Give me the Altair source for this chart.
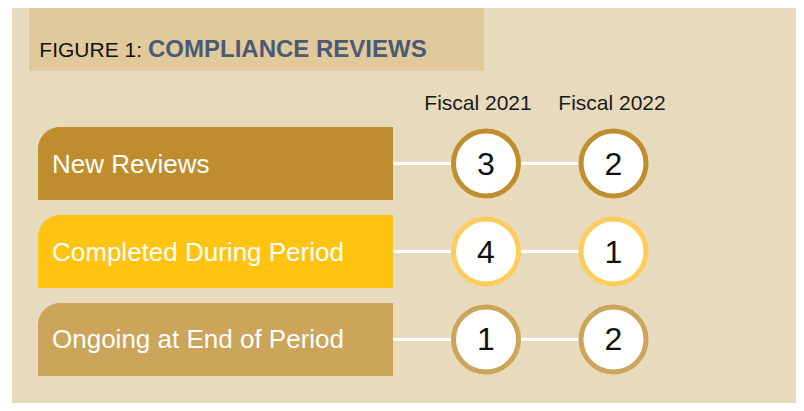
import altair as alt
import pandas as pd

# ---- data ----
categories = ["New Reviews", "Completed During Period", "Ongoing at End of Period"]
years = ["Fiscal 2021", "Fiscal 2022"]
fy2021 = [3, 4, 1]
fy2022 = [2, 1, 2]
title_prefix = "FIGURE 1:"
title_main = "COMPLIANCE REVIEWS"

# ---- styles ----
bar_colors = ["#BE8E2E", "#FFC312", "#CBA55A"]
ring_colors = ["#BF8F2E", "#FECC5A", "#CBA55A"]
BG = "#E8DABD"
BAND = "#E1C99C"
TITLE_BLUE = "#4A5A74"
FONT = "Liberation Sans"
W, H = 788, 395

rows = []
for c, a, b in zip(categories, fy2021, fy2022):
    rows.append({"Category": c, "Year": years[0], "Count": a})
    rows.append({"Category": c, "Year": years[1], "Count": b})
df = pd.DataFrame(rows)
cat_df = pd.DataFrame({"Category": categories})
year_df = pd.DataFrame({"Year": years})
one = pd.DataFrame({"k": [0]})

yscale = alt.Scale(domain=categories, range=[119, 368], paddingInner=0.17, paddingOuter=0)
Y = alt.Y("Category:N", scale=yscale, axis=None)
X = alt.X("Year:N", scale=alt.Scale(type="point", domain=years, range=[478, 605.5], padding=0), axis=None)

bg = alt.Chart(one).mark_rect(color=BG).encode(
    x=alt.value(4), x2=alt.value(W), y=alt.value(-1), y2=alt.value(H)
)
band = alt.Chart(one).mark_rect(color=BAND).encode(
    x=alt.value(21), x2=alt.value(476), y=alt.value(-1), y2=alt.value(63)
)
t1 = alt.Chart(one).mark_text(
    font=FONT, fontSize=21, color="#111111", align="right", baseline="alphabetic"
).encode(x=alt.value(134), y=alt.value(49), text=alt.value(title_prefix))
t2 = alt.Chart(one).mark_text(
    font=FONT, fontSize=24, fontWeight="bold", color=TITLE_BLUE, align="left", baseline="alphabetic"
).encode(x=alt.value(140), y=alt.value(49), text=alt.value(title_main))

bars = alt.Chart(cat_df).mark_rect(cornerRadiusTopLeft=22).encode(
    y=Y, x=alt.value(30), x2=alt.value(385),
    color=alt.Color("Category:N", scale=alt.Scale(domain=categories, range=bar_colors), legend=None),
)
rules = alt.Chart(cat_df).mark_rule(color="white", strokeWidth=3).encode(
    y=Y, x=alt.value(385), x2=alt.value(606)
)
circles = alt.Chart(df).mark_point(
    shape="circle", filled=False, fill="white", fillOpacity=1, opacity=1, strokeWidth=5, size=4225
).encode(
    x=X, y=Y,
    stroke=alt.Stroke("Category:N", scale=alt.Scale(domain=categories, range=ring_colors), legend=None),
)
nums = alt.Chart(df).mark_text(
    font=FONT, fontSize=32, color="#111111", baseline="middle", dy=1
).encode(x=X, y=Y, text="Count:Q")
headers = alt.Chart(year_df).mark_text(
    font=FONT, fontSize=21, color="#1a1a1a", baseline="alphabetic"
).encode(
    x=alt.X("Year:N", scale=alt.Scale(type="point", domain=years, range=[470, 604], padding=0), axis=None),
    y=alt.value(102), text="Year:N",
)
labels = alt.Chart(cat_df).mark_text(
    font=FONT, fontSize=26, color="white", align="left", baseline="middle", dy=1
).encode(x=alt.value(44), y=Y, text="Category:N")

chart = alt.layer(
    bg, band, t1, t2, bars, rules, circles, nums, headers, labels
).resolve_scale(
    x="independent", color="independent", stroke="independent"
).properties(
    width=W, height=H, padding=0, autosize="none", background="white"
).configure_view(stroke=None)

chart.save("out.html", embed_options={"renderer": "svg", "actions": False})
